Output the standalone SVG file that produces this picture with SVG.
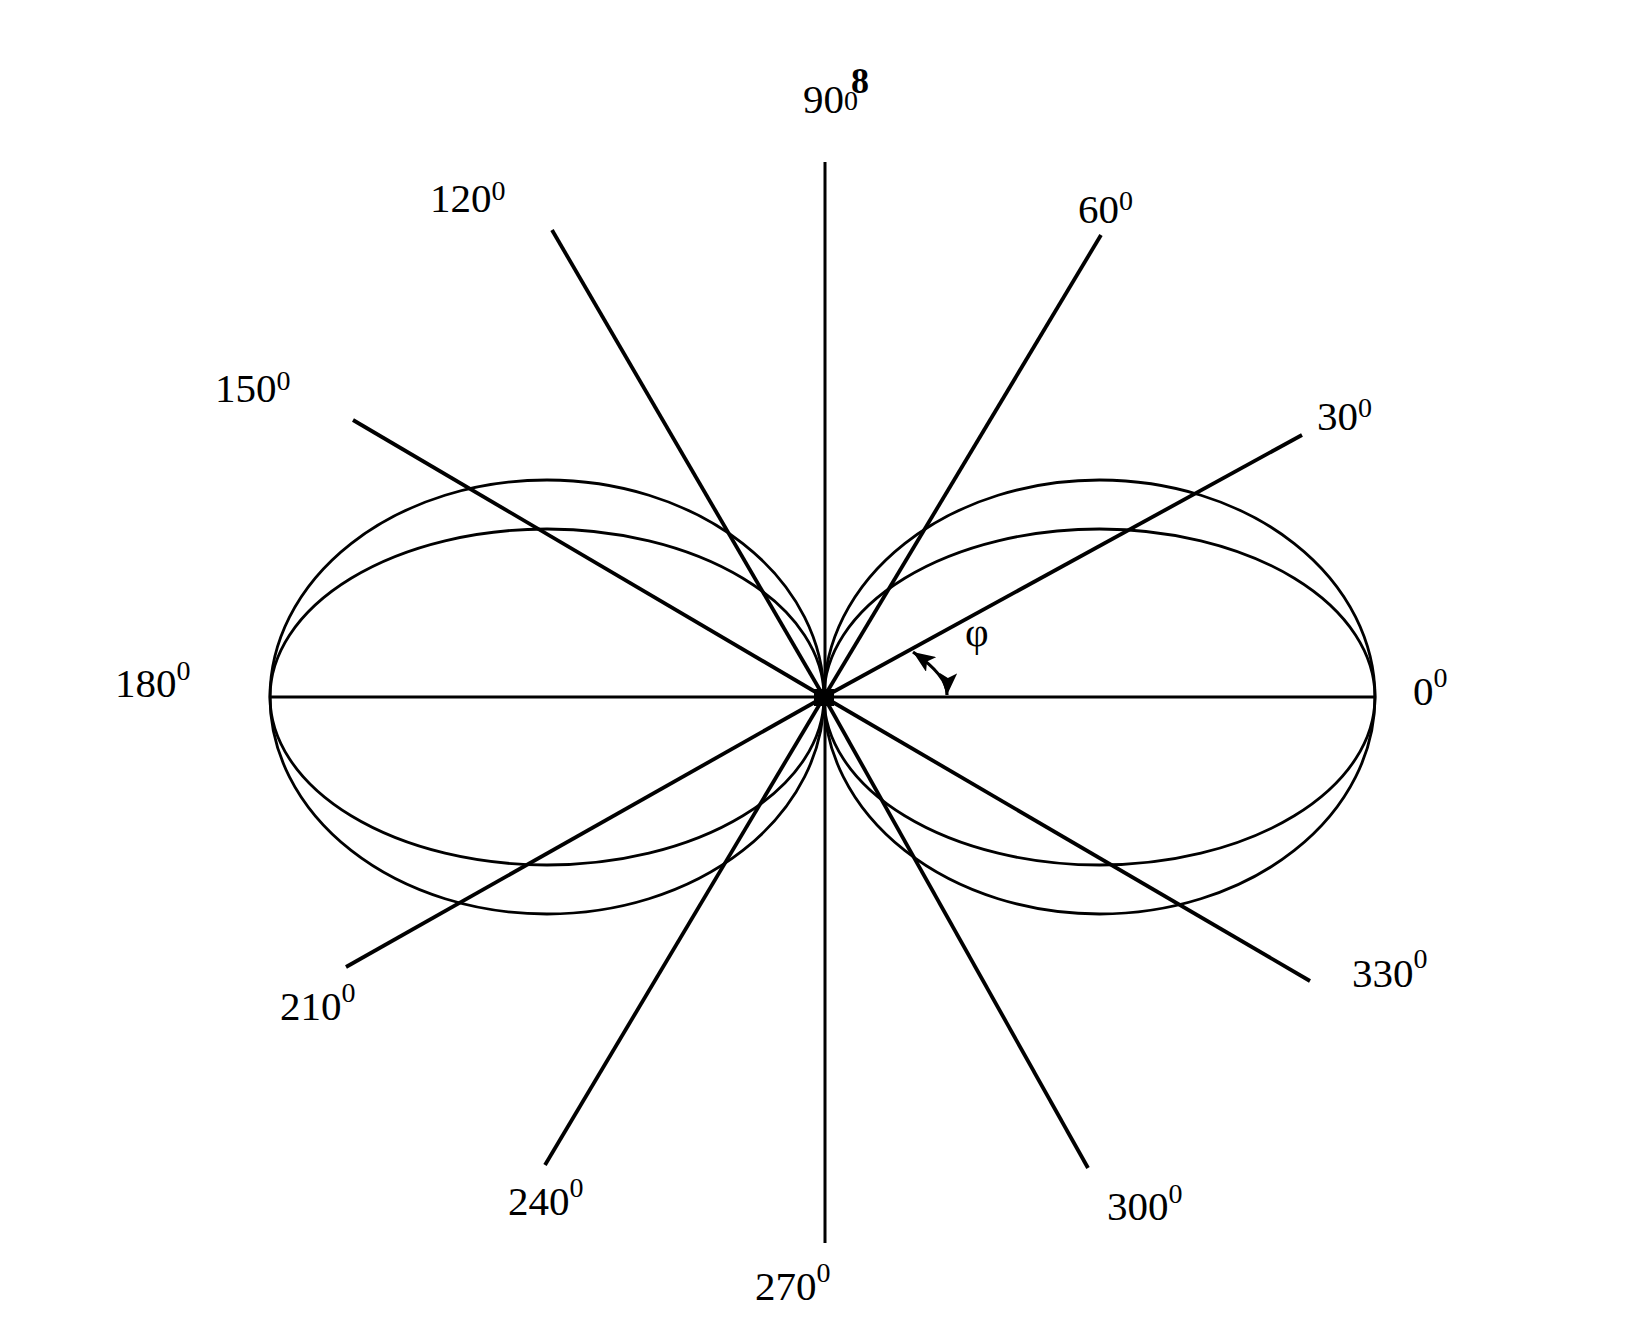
<svg xmlns="http://www.w3.org/2000/svg" width="1636" height="1340" viewBox="0 0 1636 1340">
<style>
.lbl{font-family:"Liberation Serif","Times New Roman",serif;font-size:41px;fill:#000}
.sup{font-size:28px}
.ray{stroke:#000;stroke-width:3.8;stroke-linecap:butt;fill:none}
.axis{stroke:#000;stroke-width:3;fill:none}
.lobe{stroke:#000;stroke-width:2.8;fill:none}
</style>
<defs>
<marker id="ah" viewBox="0 0 22 18" refX="22" refY="9" markerWidth="22" markerHeight="18" markerUnits="userSpaceOnUse" orient="auto-start-reverse">
<path d="M0,0 L22,9 L0,18 L5,9 Z" fill="#000"/>
</marker>
</defs>
<rect width="1636" height="1340" fill="#fff"/>
<g id="lobes">
<ellipse class="lobe" cx="547" cy="697" rx="277" ry="217"/>
<ellipse class="lobe" cx="547" cy="697" rx="277" ry="168"/>
<ellipse class="lobe" cx="1099.5" cy="697" rx="275.5" ry="217"/>
<ellipse class="lobe" cx="1099.5" cy="697" rx="275.5" ry="168"/>
</g>
<g id="connectors">
<line class="axis" x1="270" y1="697" x2="1375" y2="697"/>
<line class="axis" x1="825" y1="162" x2="825" y2="1243"/>
<line class="ray" x1="824" y1="697" x2="1302" y2="435"/>
<line class="ray" x1="824" y1="697" x2="1101" y2="235"/>
<line class="ray" x1="824" y1="697" x2="552" y2="230"/>
<line class="ray" x1="824" y1="697" x2="353" y2="420"/>
<line class="ray" x1="824" y1="697" x2="346" y2="967"/>
<line class="ray" x1="824" y1="697" x2="545" y2="1165"/>
<line class="ray" x1="824" y1="697" x2="1088" y2="1168"/>
<line class="ray" x1="824" y1="697" x2="1310" y2="981"/>
<rect x="814" y="689" width="20" height="17" fill="#000"/>
<path d="M913,652 Q948,676 947,695" fill="none" stroke="#000" stroke-width="3.2" marker-start="url(#ah)" marker-end="url(#ah)"/>
</g>
<g id="labels">
<text class="lbl" x="803" y="113" font-size="39">90<tspan class="sup" font-size="30" dy="-3">0</tspan><tspan font-size="36" font-weight="bold" dx="-7" dy="-17">8</tspan></text>
<text class="lbl" x="430" y="212">120<tspan class="sup" dy="-12">0</tspan></text>
<text class="lbl" x="215" y="402">150<tspan class="sup" dy="-12">0</tspan></text>
<text class="lbl" x="1078" y="223">60<tspan class="sup" dy="-13">0</tspan></text>
<text class="lbl" x="1317" y="430">30<tspan class="sup" dy="-13">0</tspan></text>
<text class="lbl" x="115" y="697">180<tspan class="sup" dy="-17">0</tspan></text>
<text class="lbl" x="1413" y="705">0<tspan class="sup" dy="-18">0</tspan></text>
<text class="lbl" x="280" y="1020">210<tspan class="sup" dy="-18">0</tspan></text>
<text class="lbl" x="508" y="1215">240<tspan class="sup" dy="-18">0</tspan></text>
<text class="lbl" x="1352" y="987">330<tspan class="sup" dy="-19">0</tspan></text>
<text class="lbl" x="1107" y="1220">300<tspan class="sup" dy="-17">0</tspan></text>
<text class="lbl" x="755" y="1300">270<tspan class="sup" dy="-18">0</tspan></text>
<text class="lbl" x="965" y="646" font-size="32">φ</text>
</g>
</svg>
